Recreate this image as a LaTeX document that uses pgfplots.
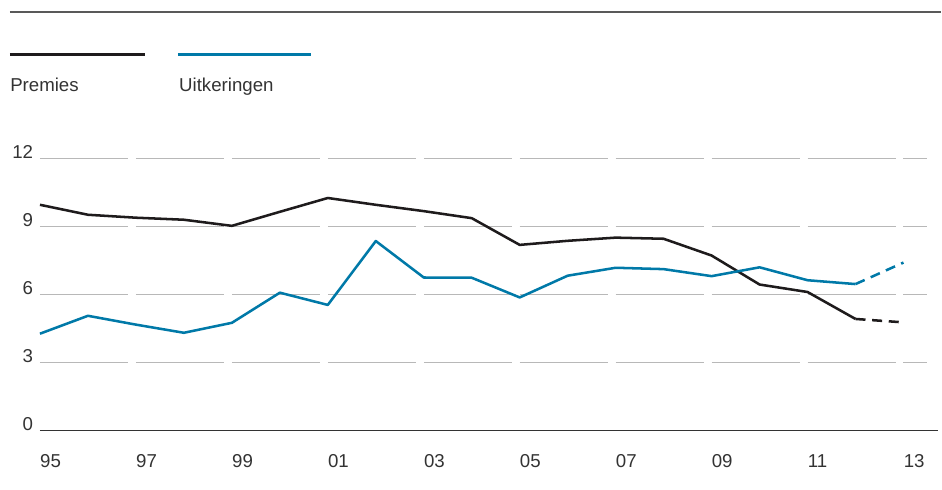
\documentclass[border=0pt]{standalone}
\usepackage{pgfplots}
\pgfplotsset{compat=1.18}
\usepackage{fontspec}
\setmainfont{Liberation Sans}
\definecolor{premie}{HTML}{1E1B1C}
\definecolor{uitk}{HTML}{0079A8}
\definecolor{gridc}{HTML}{B8B8B8}
\definecolor{txt}{HTML}{333333}
\begin{document}
\begin{tikzpicture}[font=\fontsize{14bp}{16bp}\selectfont]
\begin{axis}[
  x=36bp, y=17bp,
  xmin=1995, xmax=2013.48, ymin=0, ymax=12,
  clip=false,
  axis line style={draw=none},
  major tick length=0pt,
  xtick={1995,1997,...,2013},
  xticklabels={95,97,99,01,03,05,07,09,11,13},
  ytick={0,3,6,9,12},
  ymajorgrids,
  grid style={gridc, line width=0.9bp, dash pattern=on 66bp off 6bp},
  xticklabel style={anchor=north west, inner sep=0pt, text=txt, yshift=-18bp},
  yticklabel style={anchor=base east, inner sep=0pt, text=txt, xshift=-5bp},
  /pgf/number format/assume math mode=true,
  tick label style={font=\fontsize{14bp}{16bp}\selectfont},
  every axis plot/.append style={line join=round},
]
% baseline
\draw[txt, line width=1.2bp] (axis cs:1995,0) -- (axis cs:2013.71,0);
% top rule
\draw[black!65, line width=0.8bp] (axis cs:1994.375,18.48) -- (axis cs:2013.7917,18.48);
% legend
\draw[premie, line width=2.1bp] (axis cs:1994.375,16.59) -- (axis cs:1997.1875,16.59);
\draw[uitk, line width=2.1bp] (axis cs:1997.875,16.59) -- (axis cs:2000.646,16.59);
\node[anchor=base west, inner sep=0pt, text=txt] at (axis cs:1994.375,14.97) {Premies};
\node[anchor=base west, inner sep=0pt, text=txt] at (axis cs:1997.896,14.97) {Uitkeringen};

% Premies
\addplot[premie, line width=1.9bp] coordinates {
 (1995,9.97) (1996,9.53) (1997,9.40) (1998,9.31) (1999,9.04) (2000,9.66)
 (2001,10.27) (2002,9.97) (2003,9.69) (2004,9.38) (2005,8.20) (2006,8.38)
 (2007,8.52) (2008,8.47) (2009,7.73) (2010,6.45) (2011,6.12) (2012,4.93)};
\addplot[premie, line width=1.9bp, dash pattern=on 7.5bp off 5bp] coordinates {
 (2012,4.93) (2013,4.78)};
% Uitkeringen
\addplot[uitk, line width=1.9bp] coordinates {
 (1995,4.28) (1996,5.07) (1997,4.68) (1998,4.32) (1999,4.76) (2000,6.09)
 (2001,5.55) (2002,8.37) (2003,6.76) (2004,6.75) (2005,5.88) (2006,6.84)
 (2007,7.19) (2008,7.13) (2009,6.82) (2010,7.21) (2011,6.64) (2012,6.47)};
\addplot[uitk, line width=1.9bp, dash pattern=on 7.5bp off 5bp] coordinates {
 (2012,6.47) (2013,7.42)};

\coordinate (bbA) at (axis cs:1994.1667,19.01);
\coordinate (bbB) at (axis cs:2013.7917,-2.603);
\end{axis}
\path (bbA) rectangle (bbB);
\end{tikzpicture}
\end{document}
